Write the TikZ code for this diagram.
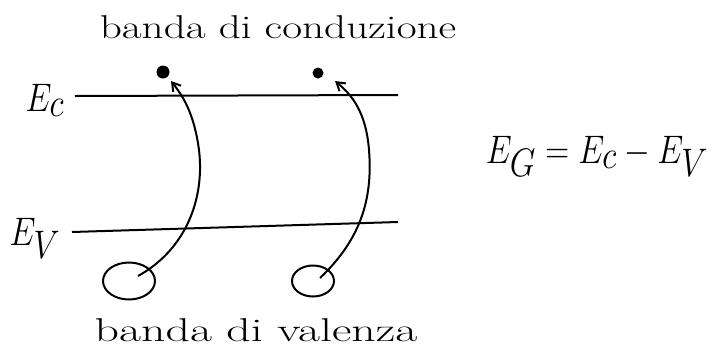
\documentclass[tikz,border=0pt]{standalone}
\usetikzlibrary{arrows.meta,shapes.geometric}
\begin{document}
\begin{tikzpicture}[x=1pt,y=-1pt,
  ink/.style={line width=2pt,black},
  lbl/.style={inner sep=0pt,anchor=base,font=\fontsize{33}{38}\selectfont},
  eq/.style={inner sep=0pt,anchor=base,xscale=1.33,yscale=1.6,font=\fontsize{24}{28}\selectfont},
  elec/.style={circle,fill=black,inner sep=0pt},
  hole/.style={ellipse,draw,line width=2pt,inner sep=0pt},
  arr/.style={ink,-{Straight Barb[length=8pt,width=10pt]}}]
\useasboundingbox (0,0) rectangle (716,357);
% labels
\node[lbl,xscale=1.31] (tc) at (278,38) {banda di conduzione};
\node[lbl,xscale=1.45] (tv) at (256,341) {banda di valenza};
\node[eq] (ec) at (45,111) {$E_{\textstyle c}$};
\node[eq] (ev) at (35,245) {$E_{\textstyle V}$};
\node[eq] (eg) at (597,163) {$E_{\textstyle G} = E_{\textstyle c} - E_{\textstyle V}$};
% band lines
\coordinate (ca) at (75,96); \coordinate (cb) at (398,95);
\coordinate (va) at (72,232); \coordinate (vb) at (398,222);
\draw[ink] (ca) -- (cb);
\draw[ink] (va) -- (vb);
% electrons
\node[elec,minimum size=13pt] (e1) at (163,72) {};
\node[elec,minimum size=11pt] (e2) at (318,73) {};
% holes
\node[hole,minimum width=52pt,minimum height=37pt] (h1) at (129,281) {};
\node[hole,minimum width=42pt,minimum height=31pt] (h2) at (313,281) {};
\coordinate (s1) at (138,276);
\coordinate (s2) at (320,278);
\coordinate (t1) at (171,81);
\coordinate (t2) at (335,81);
\draw[arr] (s1) .. controls (185,250) and (205,200) .. (199,150)
  .. controls (194,112) and (182,95) .. (t1);
\draw[arr] (s2) .. controls (360,240) and (373,200) .. (369,150)
  .. controls (366,112) and (352,95) .. (t2);
\end{tikzpicture}
\end{document}
